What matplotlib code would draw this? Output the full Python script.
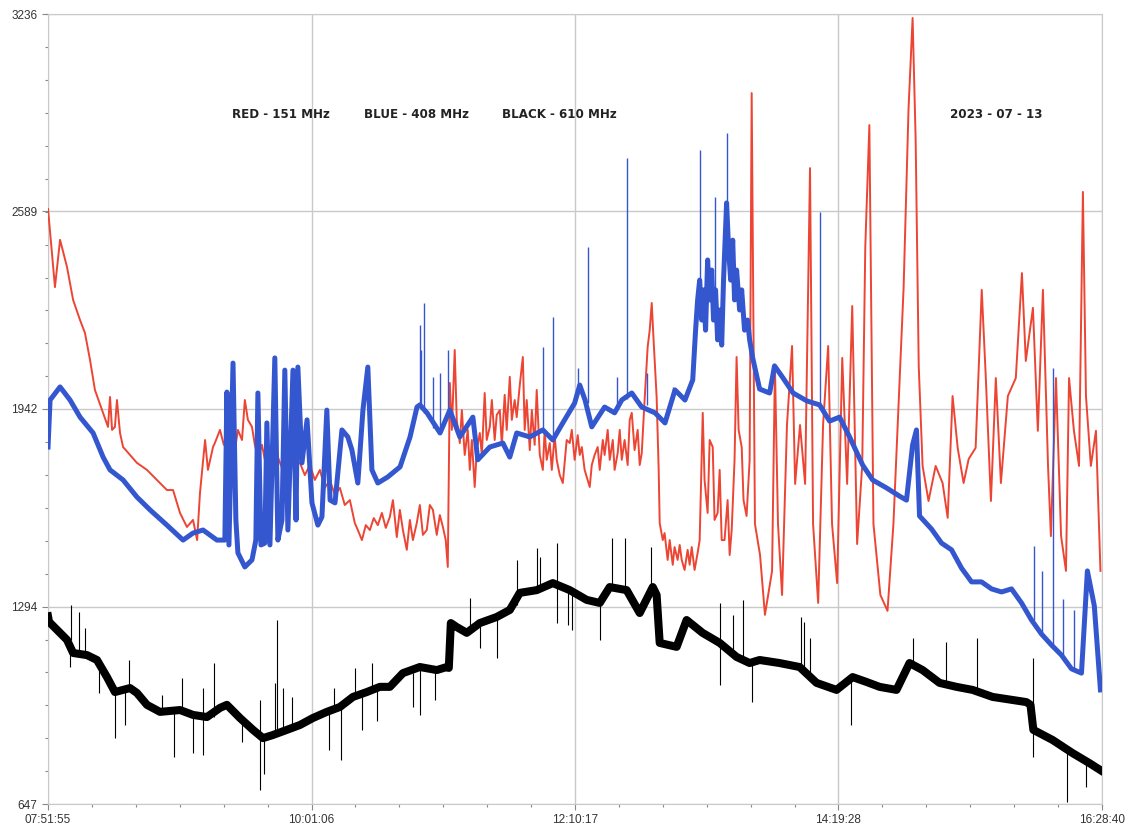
import numpy as np
import matplotlib.pyplot as plt
from matplotlib.ticker import AutoMinorLocator, FixedLocator

# registo do dia 2023-07-13, tempo em minutos desde 07:51:55
inicio = "07:51:55"
rotulos_tempo = ["07:51:55", "10:01:06", "12:10:17", "14:19:28", "16:28:40"]
niveis_y = [647, 1294, 1942, 2589, 3236]

# 151 MHz (vermelho), em troços
verm_t_1 = [0, 3.4, 5.9, 9.3, 12.3, 15.7, 18.1, 20.6, 23.0, 27.0, 29.4, 30.4, 31.4, 32.8, 33.8,
            35.3, 36.8, 43.6, 48.5, 53.4, 58.3, 61.3, 64.7, 68.1, 71.1, 73.1, 74.5, 77.0, 78.4,
            80.9]
verm_v_1 = [2597, 2341, 2496, 2407, 2299, 2233, 2191, 2102, 2004, 1929, 1883, 1981, 1873, 1883, 1971,
            1863, 1817, 1765, 1742, 1709, 1676, 1676, 1601, 1555, 1578, 1512, 1666, 1840, 1742,
            1817]

verm_t_2 = [81.8, 84.3, 86.2, 88.2, 90.2, 91.6, 93.1, 95.1, 96.5, 98.0, 100.0, 101.4, 102.9,
            104.9, 106.3, 107.8, 109.8, 111.2, 112.7, 114.7, 116.1, 117.6, 119.6, 121.0, 122.5,
            123.5, 125.9, 128.4, 130.8, 133.3, 135.7, 138.2, 140.6, 143.1, 145.5, 148.0, 150.4,
            151.9, 153.9, 155.8, 157.8, 159.7, 161.7, 163.7, 165.6]
verm_v_2 = [1830, 1873, 1824, 1850, 1791, 1807, 1873, 1840, 1971, 1906, 1883, 1824, 1784,
            1824, 1775, 1807, 1768, 1814, 1784, 1748, 1791, 1742, 1775, 1742, 1765,
            1765, 1725, 1758, 1709, 1742, 1683, 1709, 1660, 1683, 1627, 1643, 1568,
            1545, 1512, 1561, 1545, 1584, 1561, 1601, 1552]

verm_t_3 = [167.6, 169.1, 171.0, 172.5, 174.0, 175.9, 177.4, 178.9, 180.8, 182.3, 183.8, 185.7,
            187.2, 188.7, 190.6, 192.1, 193.6, 195.0, 196.0]
verm_v_3 = [1588, 1643, 1522, 1611, 1545, 1480, 1578, 1512, 1568, 1627, 1529, 1545,
            1627, 1611, 1529, 1594, 1555, 1512, 1424]

verm_t_4 = [197.0, 198.0, 199.4, 200.4, 201.9, 202.9, 204.3, 205.8, 206.8, 207.8,
            209.2, 210.2, 211.7, 212.7, 214.1, 215.1, 216.6, 217.6, 219.0, 220.0,
            221.5, 222.5, 223.9, 224.9, 226.4, 227.4, 228.8, 229.8, 231.3, 232.8,
            233.7, 234.7, 236.2, 237.2, 238.6, 239.6, 241.1, 242.6, 243.5, 244.5,
            246.0, 247.0, 248.4, 249.4, 250.9, 252.4, 253.3, 254.3, 255.8, 256.8,
            258.2, 259.7, 260.7, 261.7, 263.1, 264.6, 265.6, 266.6, 268.0, 269.5,
            270.5, 272.0, 272.9, 274.4, 275.4, 276.9, 277.8, 279.3, 280.3, 281.3,
            282.7, 284.2, 285.2, 286.2, 287.6, 289.1, 290.1, 291.1, 292.5, 294.0,
            295.0, 296.0, 296.9, 298.4, 299.4, 299.9, 301.4, 302.3, 303.8, 304.8,
            306.3, 307.2, 308.7, 309.7, 310.7, 312.1, 313.6, 314.6, 315.6, 317.0,
            318.5, 319.5, 321.0, 321.9, 323.4, 324.4, 325.9, 326.8, 328.3, 329.3,
            330.3, 331.7, 333.2, 334.2, 335.2, 336.6, 337.6, 338.6, 340.1, 341.0,
            342.5, 344.0, 345.0]
verm_v_4 = [2027, 1873, 2135, 1906, 1830, 1938, 1791, 1873, 1742, 1840,
            1686, 1807, 1863, 1791, 1994, 1840, 1883, 1971, 1840, 1922,
            1938, 1824, 1988, 1873, 2047, 1906, 1971, 1915, 2020, 2112,
            1873, 1971, 1807, 1938, 1824, 2004, 1791, 1742, 1873, 1775,
            1830, 1742, 1856, 1775, 1725, 1699, 1765, 1840, 1830, 1873,
            1775, 1856, 1791, 1817, 1742, 1709, 1686, 1758, 1791, 1817,
            1742, 1840, 1791, 1873, 1775, 1840, 1742, 1797, 1873, 1775,
            1840, 1758, 1906, 1929, 1807, 1873, 1758, 1797, 1971, 2145,
            2200, 2289, 2168, 1981, 1742, 1568, 1512, 1535, 1447, 1512,
            1431, 1489, 1447, 1496, 1447, 1414, 1480, 1431, 1489, 1414,
            1470, 1512, 1929, 1709, 1601, 1840, 1817, 1578, 1601, 1742,
            1512, 1512, 1643, 1463, 1545, 1775, 2112, 1873, 1817, 1643,
            1591, 1775, 2977]

verm_t_5 = [346.6, 349.1, 351.5, 355.0, 356.4, 357.9, 359.9, 362.3, 364.8, 366.3, 368.7, 371.2,
            373.6, 375.1, 377.6, 380.0, 382.5, 384.4, 386.9, 389.4, 391.8, 394.3, 396.7, 399.2,
            400.7, 402.7, 404.7, 408.1, 411.6, 414.5, 417.0, 419.5, 421.9, 423.9, 425.4, 426.9,
            428.8, 431.7, 435.2, 438.6, 441.1, 443.5, 446.0, 448.9, 451.4, 454.8, 457.8, 459.8,
            462.3, 464.7, 467.2, 470.6, 474.5, 477.5, 479.4, 482.9, 485.3, 487.8, 490.3, 491.7,
            494.2, 496.7, 499.1, 500.6, 503.0, 505.5, 507.4, 508.9, 511.3, 513.8, 516.0]
verm_v_5 = [1565, 1463, 1267, 1411, 2083, 1565, 1332, 1889, 2148, 1696, 1889, 1696,
            2731, 1565, 1306, 1889, 2148, 1565, 1371, 2109, 1696, 2279, 1499, 1758,
            2473, 2872, 1565, 1332, 1280, 1565, 1955, 2341, 2925, 3223, 2823, 2083,
            1755, 1640, 1755, 1699, 1585, 1984, 1814, 1699, 1778, 1814, 2332, 2043,
            1640, 2043, 1699, 1984, 2043, 2387, 2099, 2273, 1870, 2332, 1755, 1525,
            2043, 1525, 1411, 2043, 1870, 1755, 2653, 1984, 1755, 1870, 1411]

# 408 MHz (azul), em troços
azul_t_1 = [0, 1.0, 5.9, 10.8, 15.7, 22.1, 27.0, 30.4, 36.8, 43.6, 50.0, 58.3, 66.2, 71.1, 76.0,
            82.8, 86.7, 87.7, 88.7, 90.7, 92.1, 93.1, 96.5, 100.0, 101.9, 102.9, 104.4, 106.3,
            107.3, 108.8, 111.2, 112.7, 114.7, 116.1, 117.6, 120.1, 121.6, 122.5, 124.5, 127.0,
            129.4, 132.3, 134.3, 136.7, 138.3, 140.7, 144.1, 147.0, 149.0, 151.9, 154.4, 156.8,
            158.8, 161.7, 166.6, 172.6, 177.5, 180.9, 182.3, 185.8, 192.2, 197.0, 201.9, 208.3,
            210.7, 216.6, 223.0, 226.4, 229.8, 236.2, 242.6, 247.5, 252.4, 258.2, 260.7, 263.3,
            266.6, 272.9, 277.8, 281.3, 286.2, 291.1, 297.6, 302.5, 307.4, 312.3]
azul_v_1 = [1817, 1971, 2014, 1971, 1915, 1863, 1784, 1742, 1709, 1653, 1611, 1561, 1512, 1535, 1545,
            1512, 1512, 1997, 1496, 2092, 1578, 1470, 1424, 1447, 1512, 1994, 1496, 1502,
            1896, 1496, 2109, 1512, 1578, 2069, 1545, 2069, 1578, 2079, 1765, 1906,
            1634, 1561, 1588, 1938, 1643, 1634, 1873, 1850, 1807, 1699, 1938, 2079,
            1742, 1699, 1719, 1752, 1850, 1948, 1955, 1929, 1863, 1938, 1850, 1915,
            1775, 1817, 1830, 1784, 1863, 1850, 1873, 1840, 1896, 1961, 2020, 1971,
            1883, 1948, 1929, 1971, 1994, 1948, 1929, 1896, 2004, 1971]

azul_t_2 = [316.1, 317.5, 318.5, 319.5, 320.5, 321.4, 322.4, 323.4, 324.4, 325.4,
            326.3, 327.3, 328.3, 329.3, 330.3, 331.2, 332.2, 332.7, 333.7, 334.7,
            335.7, 336.6, 337.6, 339.1, 340.1, 341.5, 343.0, 344.0, 345.5]
azul_v_2 = [2037, 2200, 2299, 2364, 2233, 2332, 2200, 2430, 2299, 2397,
            2233, 2332, 2168, 2266, 2151, 2364, 2528, 2617, 2463, 2364,
            2495, 2299, 2397, 2266, 2332, 2200, 2233, 2168, 2109]

azul_t_3 = [348.9, 353.8, 356.2, 360.4, 365.3, 372.1, 378.3, 383.2, 388.1, 393.0, 399.4, 404.3,
            411.1, 417.5, 420.9, 423.9, 425.8, 427.3, 433.2, 438.1, 443.0, 447.9, 452.8, 457.7,
            462.6, 467.5, 472.4, 477.3, 482.2, 487.1, 492.0, 496.9, 501.8, 506.7, 509.6, 513.0,
            516.0]
azul_v_3 = [2007, 1994, 2083, 2043, 1994, 1968, 1955, 1902, 1915, 1850, 1758, 1709,
            1683, 1656, 1643, 1824, 1873, 1591, 1548, 1502, 1480, 1420, 1375, 1375,
            1352, 1342, 1352, 1306, 1250, 1204, 1168, 1135, 1090, 1076, 1411, 1296,
            1021]

# picos estreitos do azul: instante, base, topo
pico_azul_t = [182.3, 182.8, 184.3, 188.7, 192.2, 196.0, 242.6, 247.5, 259.7, 264.6, 278.8, 283.7,
               293.5, 306.3, 319.7, 327.0, 332.9, 378.3, 483.6, 487.1, 492.5, 497.4, 503.2]
pico_azul_base = [1955, 1948, 1929, 1880, 1863, 1938, 1873, 1840, 1988, 1960, 1955, 1975,
                  1955, 1971, 2300, 2299, 2617, 1955, 1250, 1204, 1168, 1135, 1090]
pico_azul_topo = [2217, 2135, 2289, 2047, 2060, 2135, 2145, 2243, 2076, 2473, 2047, 2764,
                  2060, 2014, 2790, 2637, 2846, 2587, 1493, 1411, 2076, 1319, 1283]

# 610 MHz (preto)
t_preto = [0, 0.5, 9.3, 12.3, 19.1, 24.0, 28.9, 32.8, 40.2, 43.6, 48.5, 54.9, 64.7, 71.1, 77.9,
           84.3, 87.7, 94.1, 100.5, 105.4, 110.2, 117.1, 123.5, 129.9, 136.7, 143.1, 149.5,
           156.3, 162.7, 167.6, 174.0, 182.3, 190.6, 195.5, 196.5, 197.5, 200.4, 205.3, 211.7,
           220.0, 226.4, 231.3, 239.6, 247.5, 255.8, 264.1, 270.5, 275.4, 283.7, 290.1, 296.5,
           298.4, 299.9, 308.2, 313.1, 320.9, 329.3, 337.6, 344.0, 348.9, 358.7, 368.5, 376.8,
           386.6, 394.5, 401.3, 407.7, 416.0, 422.4, 428.8, 437.1, 445.4, 453.3, 463.1, 472.9,
           479.7, 481.7, 483.1, 492.5, 502.3, 510.6, 516.0]
v_preto = [1262, 1244, 1185, 1142, 1135, 1119, 1063, 1014, 1027, 1011, 972, 949, 955, 939, 932,
           962, 972, 929, 890, 863, 873, 890, 906, 929, 949, 965, 998,
           1014, 1031, 1031, 1076, 1096, 1086, 1096, 1093, 1240, 1227, 1208, 1240,
           1260, 1283, 1339, 1348, 1371, 1348, 1316, 1306, 1358, 1348, 1273, 1358,
           1332, 1175, 1162, 1250, 1208, 1175, 1129, 1109, 1119, 1109, 1096, 1044,
           1021, 1063, 1047, 1031, 1021, 1109, 1086, 1044, 1031, 1021, 998, 988,
           981, 972, 890, 857, 814, 781, 758]

pico_preto_t = [10.8, 11.3, 15.2, 18.1, 25.0, 32.8, 37.7, 39.7, 55.9, 61.7, 65.7, 71.1, 76.0, 81.3,
                95.1, 103.9, 105.8, 111.2, 112.2, 115.2, 119.6, 137.7, 140.2, 143.6, 150.4, 153.9,
                158.8, 161.2, 178.9, 182.3, 189.6, 206.8, 211.7, 220.0, 229.8, 239.6, 241.1, 249.4,
                254.8, 256.8, 270.5, 276.4, 282.7, 295.5, 329.3, 335.7, 340.6, 345.2, 369.2, 370.6,
                373.6, 393.5, 423.9, 440.5, 455.7, 482.7, 499.8, 509.1]
pico_preto_min = [1096, 1185, 1152, 1135, 1011, 863, 906, 1027, 949, 801, 955, 814, 808, 932,
                  850, 693, 745, 873, 873, 890, 900, 824, 949, 791, 998, 890,
                  1014, 919, 965, 939, 988, 1208, 1158, 1126, 1300, 1348, 1348, 1240,
                  1234, 1217, 1185, 1358, 1348, 1358, 1037, 1142, 1109, 981, 1096, 1096,
                  1070, 906, 1109, 1044, 1021, 801, 654, 703]
pico_preto_max = [1168, 1299, 1276, 1224, 1119, 1014, 1021, 1119, 1004, 949, 1060, 939, 1027, 1109,
                  929, 988, 873, 1044, 1250, 1027, 998, 949, 1027, 965, 1093, 1014,
                  1109, 1031, 1076, 1096, 1086, 1322, 1240, 1260, 1447, 1486, 1457, 1502,
                  1348, 1348, 1306, 1519, 1519, 1489, 1306, 1267, 1316, 1109, 1260, 1244,
                  1191, 1063, 1191, 1178, 1191, 1126, 837, 785]


def minutos(hms):
    h, m, s = (int(p) for p in hms.split(":"))
    return h * 60 + m + s / 60


pos_tempo = [minutos(r) - minutos(inicio) for r in rotulos_tempo]

t_vermelho = verm_t_1 + verm_t_2 + verm_t_3 + verm_t_4 + verm_t_5
v_vermelho = verm_v_1 + verm_v_2 + verm_v_3 + verm_v_4 + verm_v_5
t_azul = azul_t_1 + azul_t_2 + azul_t_3
v_azul = azul_v_1 + azul_v_2 + azul_v_3

fig = plt.figure(figsize=(11.3, 8.35), dpi=100)
ax = fig.add_axes([0.0425, 0.0371, 0.9327, 0.9461])

cor_vermelho = "#ec4534"
cor_azul = "#3457cf"

ax.plot(t_vermelho, v_vermelho, color=cor_vermelho, lw=1.4, zorder=3)
ax.plot(t_azul, v_azul, color=cor_azul, lw=3.6, zorder=4)
ax.vlines(pico_azul_t, pico_azul_base, pico_azul_topo, color=cor_azul, lw=1.0, zorder=4)
ax.plot(t_preto, v_preto, color="black", lw=5.8, zorder=5)
ax.vlines(pico_preto_t, pico_preto_min, pico_preto_max, color="black", lw=0.8, zorder=5)

ax.set_xlim(pos_tempo[0], pos_tempo[-1])
ax.set_ylim(niveis_y[0], niveis_y[-1])
ax.xaxis.set_major_locator(FixedLocator(pos_tempo))
ax.set_xticklabels(rotulos_tempo)
ax.yaxis.set_major_locator(FixedLocator(niveis_y))
ax.set_yticklabels([str(v) for v in niveis_y])
ax.xaxis.set_minor_locator(AutoMinorLocator(6))
ax.yaxis.set_minor_locator(AutoMinorLocator(6))

ax.grid(True, which="major", color="#c9c9c9", lw=1.0)
ax.set_axisbelow(True)
for lado in ax.spines.values():
    lado.set_color("#c9c9c9")
ax.tick_params(which="major", length=4, width=0.8, color="#888888",
               labelsize=8.5, labelcolor="#333333")
ax.tick_params(which="minor", length=2.5, width=0.8, color="#888888")
for rot in ax.get_xticklabels() + ax.get_yticklabels():
    rot.set_fontfamily("Liberation Sans")

cabecalho = [("RED - 151 MHz", 232), ("BLUE - 408 MHz", 364),
             ("BLACK - 610 MHz", 502), ("2023 - 07 - 13", 950)]
for texto, px in cabecalho:
    fig.text(px / 1130, 1 - 115 / 835, texto, fontsize=8.6, fontweight="bold",
             color="#222222", ha="left", va="center")

fig.savefig("out.png", dpi=100)
